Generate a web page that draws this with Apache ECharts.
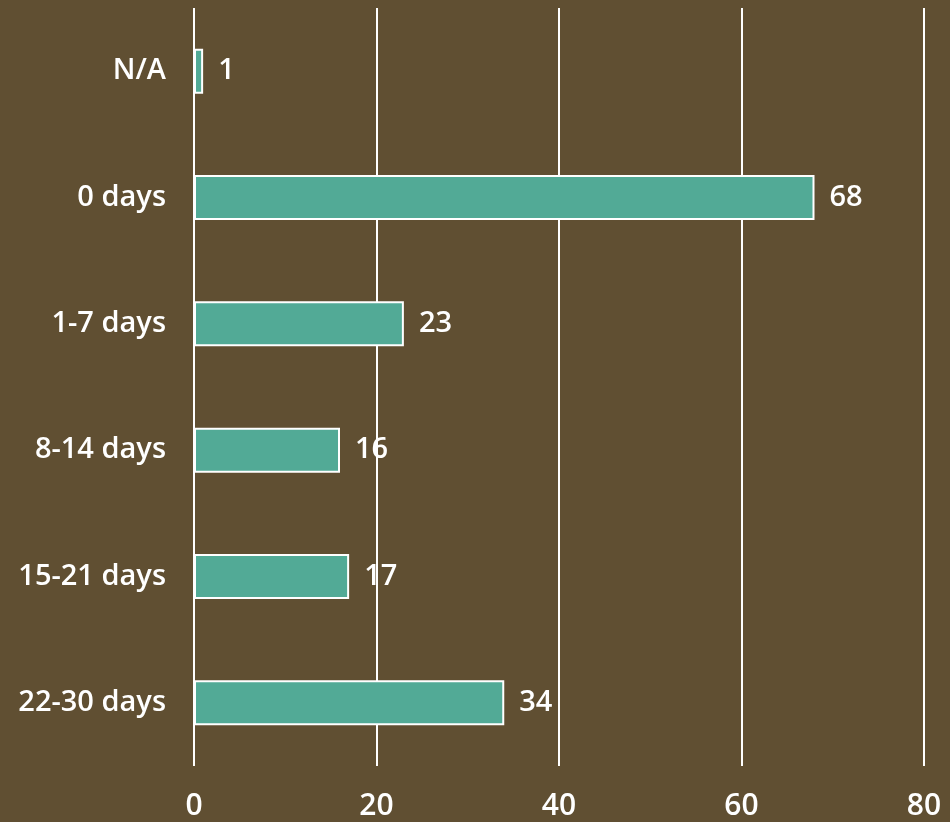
<!DOCTYPE html>
<html><head><meta charset="utf-8">
<script src="https://cdn.jsdelivr.net/npm/echarts@6/dist/echarts.min.js"></script>
<style>html,body{margin:0;padding:0;background:#604F32}#c{width:950px;height:822px}</style>
</head><body><div id="c"></div>
<script>
const categories = ["N/A","0 days","1-7 days","8-14 days","15-21 days","22-30 days"];
const values = [1,68,23,16,17,34];
const xTicks = [0,20,40,60,80];

const chart = echarts.init(document.getElementById('c'));
chart.setOption({
  backgroundColor:'#604F32',
  animation:false,
  grid:{left:194,right:26,top:8,bottom:56,containLabel:false},
  xAxis:{type:'value',min:0,max:80,interval:20,
    axisLine:{show:false},axisTick:{show:false},
    splitLine:{show:true,lineStyle:{color:'#ffffff',width:2}},
    axisLabel:{color:'#ffffff',fontSize:30,fontWeight:600,fontFamily:'Open Sans',margin:25,
      formatter:v=>xTicks.includes(v)?String(v):''}},
  yAxis:{type:'category',data:categories,inverse:true,
    axisLine:{show:false},axisTick:{show:false},
    axisLabel:{color:'#ffffff',fontSize:29,fontWeight:600,fontFamily:'Open Sans',margin:28}},
  series:[{type:'bar',data:values,barWidth:45,
    itemStyle:{color:'#52AA96',borderColor:'#ffffff',borderWidth:2},
    label:{show:true,position:'right',distance:15,color:'#ffffff',fontSize:29,fontWeight:600,fontFamily:'Open Sans'}}]
});
</script></body></html>
